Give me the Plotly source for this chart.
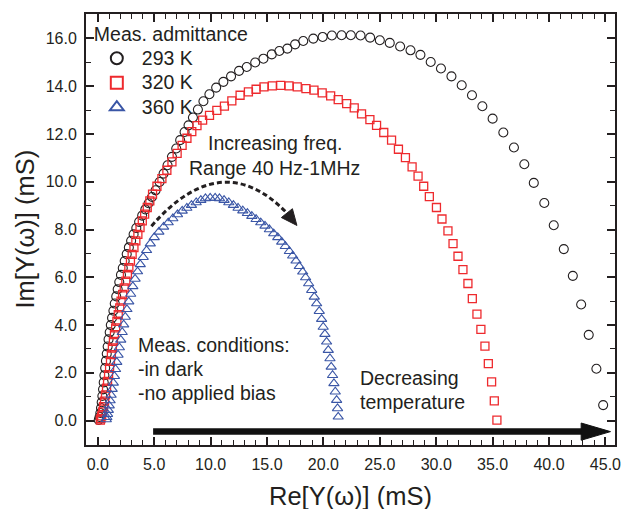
import plotly.graph_objects as go

# ---- data (Re, Im in mS) ----
re_293 = [0.08,0.15,0.22,0.28,0.34,0.40,0.46,0.52,0.58,0.65,0.72,0.79,0.87,0.95,1.05,1.15,1.26,1.38,1.50,1.63,
          1.76,1.90,2.05,2.21,2.38,2.56,2.75,2.95,3.17,3.41,3.66,3.93,4.21,4.50,
          4.80,5.12,5.47,5.83,6.18,6.57,6.95,7.30,7.69,8.04,8.43,8.87,9.36,9.89,10.49,11.13,11.81,12.52,13.20,13.95,
          14.68,15.42,16.09,16.80,17.49,18.21,19.10,19.93,20.75,21.61,22.43,23.29,24.14,25.00,25.88,26.80,27.72,
          28.60,29.51,30.42,31.35,32.26,33.17,34.09,35.00,35.95,36.89,37.81,38.65,39.58,40.42,41.31,42.11,42.85,
          43.52,44.20,44.80]
im_293 = [0.03,0.15,0.32,0.53,0.77,1.03,1.31,1.60,1.90,2.20,2.50,2.80,3.10,3.40,3.70,4.00,4.30,4.60,4.90,5.20,
          5.50,5.80,6.10,6.39,6.68,6.97,7.25,7.53,7.80,8.06,8.32,8.58,8.84,9.10,
          9.36,9.64,9.99,10.34,10.69,11.04,11.39,11.74,12.08,12.36,12.69,13.02,13.37,13.66,13.94,14.18,14.41,14.64,14.80,14.99,
          15.15,15.33,15.47,15.57,15.75,15.89,15.99,16.06,16.12,16.13,16.13,16.12,16.03,15.92,15.81,15.66,15.50,
          15.31,15.01,14.74,14.41,14.04,13.62,13.16,12.64,12.06,11.43,10.73,9.95,9.11,8.18,7.18,6.06,4.86,
          3.59,2.17,0.65]

re_320 = [0.22,0.27,0.34,0.42,0.50,0.59,0.68,0.77,0.86,0.95,1.04,1.12,1.20,1.29,1.38,1.47,1.58,1.69,1.81,1.94,
          2.06,2.20,2.34,2.48,2.62,2.75,2.89,3.04,3.20,3.37,3.55,3.74,3.94,4.15,4.38,4.61,
          4.85,5.24,5.68,6.12,6.57,7.03,7.47,7.90,8.33,8.79,9.29,9.90,10.55,11.22,11.88,12.61,13.35,14.03,14.73,
          15.47,16.21,16.95,17.68,18.45,19.16,19.89,20.64,21.31,22.06,22.73,23.38,24.12,24.71,25.35,26.04,26.65,
          27.27,27.86,28.39,28.89,29.39,30.02,30.51,31.04,31.49,31.93,32.37,32.81,33.20,33.61,33.96,34.32,34.62,
          34.91,35.15,35.38]
im_320 = [0.02,0.08,0.20,0.37,0.58,0.82,1.08,1.36,1.64,1.92,2.20,2.48,2.76,3.04,3.32,3.60,3.88,4.16,4.44,4.72,
          5.00,5.28,5.56,5.84,6.12,6.40,6.68,6.96,7.24,7.52,7.80,8.08,8.36,8.64,8.92,9.20,
          9.48,9.81,10.13,10.48,10.83,11.19,11.52,11.82,12.10,12.35,12.58,12.78,12.99,13.16,13.38,13.62,13.76,13.87,13.97,
          14.01,14.03,14.01,13.97,13.90,13.83,13.72,13.59,13.44,13.27,13.09,12.84,12.60,12.36,12.06,11.74,11.36,
          11.01,10.62,10.23,9.81,9.38,8.92,8.44,7.94,7.41,6.88,6.32,5.74,5.11,4.46,3.82,3.12,2.39,
          1.62,0.83,0.02]

re_360 = [0.75,0.80,0.86,0.93,1.01,1.09,1.18,1.27,1.37,1.47,1.57,1.68,1.79,1.91,2.03,2.16,2.29,2.43,2.58,2.74,
          2.91,3.10,3.30,3.52,3.76,4.02,4.32,
          4.65,5.00,5.41,5.83,6.24,6.65,7.06,7.48,7.89,8.30,8.72,9.13,9.54,9.96,10.40,10.78,11.19,11.61,12.02,
          12.43,12.85,13.26,13.65,14.03,14.44,14.82,15.21,15.59,15.95,16.30,16.62,16.98,17.27,17.57,17.86,18.16,
          18.42,18.69,18.96,19.19,19.40,19.63,19.84,19.98,20.13,20.28,20.43,20.58,20.69,20.81,20.93,21.05,21.17,
          21.25,21.31]
im_360 = [0.05,0.14,0.27,0.44,0.63,0.84,1.07,1.32,1.58,1.86,2.15,2.45,2.75,3.06,3.38,3.70,4.02,4.34,4.66,4.98,
          5.30,5.62,5.93,6.24,6.54,6.84,7.13,
          7.41,7.67,7.90,8.11,8.29,8.46,8.63,8.78,8.90,9.02,9.13,9.23,9.30,9.32,9.32,9.30,9.23,9.13,9.02,
          8.90,8.79,8.68,8.56,8.43,8.29,8.15,8.00,7.83,7.67,7.48,7.30,7.09,6.90,6.69,6.46,6.23,
          5.99,5.74,5.46,5.18,4.90,4.58,4.25,3.92,3.62,3.30,2.95,2.60,2.25,1.90,1.56,1.21,0.86,
          0.51,0.16]

series_names = ["293 K", "320 K", "360 K"]
x_ticks = [0, 5, 10, 15, 20, 25, 30, 35, 40, 45]
y_ticks = [0, 2, 4, 6, 8, 10, 12, 14, 16]

FONT = "Arial, Liberation Sans, sans-serif"
TXT = "#231f20"
FS = 19.5


def lname(s):
    return "<span style='font-size:19.5px'>" + s + "</span>"


fig = go.Figure()
fig.add_trace(go.Scatter(x=re_293, y=im_293, mode="markers", name=lname(series_names[0]),
                         marker=dict(symbol="circle-open", size=9, color="#231f20", line=dict(width=1.1))))
fig.add_trace(go.Scatter(x=re_320, y=im_320, mode="markers", name=lname(series_names[1]),
                         marker=dict(symbol="square-open", size=8, color="#ee2a2e", line=dict(width=1.3))))
fig.add_trace(go.Scatter(x=re_360, y=im_360, mode="markers", name=lname(series_names[2]),
                         marker=dict(symbol="triangle-up-open", size=9, color="#3a56a6", line=dict(width=1.1))))

axis_common = dict(showline=True, linewidth=2, linecolor="#231f20", mirror="allticks",
                   ticks="inside", ticklen=8, tickwidth=1.5, tickcolor="#231f20",
                   showgrid=False, zeroline=False, tickformat=".1f", automargin=False,
                   ticklabeloverflow="allow",
                   tickfont=dict(family=FONT, size=16, color=TXT))

fig.update_xaxes(range=[-1.05, 45.85], tickvals=x_ticks, ticklabelstandoff=4,
                 minor=dict(dtick=1, tick0=0, ticks="inside", ticklen=5, tickwidth=1.2, tickcolor="#231f20"),
                 **axis_common)
fig.update_yaxes(range=[-1.02, 17.02], tickvals=y_ticks, ticklabelstandoff=4,
                 minor=dict(dtick=1, tick0=0, ticks="inside", ticklen=5, tickwidth=1.2, tickcolor="#231f20"),
                 **axis_common)

# axis titles
fig.add_annotation(x=0.5, y=0, xref="paper", yref="paper", yshift=-51, text="Re[Y(ω)] (mS)",
                   showarrow=False, xanchor="center", yanchor="middle",
                   font=dict(family=FONT, size=25.5, color=TXT))
fig.add_annotation(x=0, y=0.5, xref="paper", yref="paper", xshift=-62, text="Im[Y(ω)] (mS)",
                   textangle=-90, showarrow=False, xanchor="center", yanchor="middle",
                   font=dict(family=FONT, size=25.5, color=TXT))

# thick "decreasing temperature" arrow
fig.add_shape(type="line", xref="x", yref="y", x0=4.9, y0=-0.46, x1=43.1, y1=-0.46,
              line=dict(color="#111111", width=6.5))
fig.add_shape(type="path", xref="x", yref="y", path="M 42.85 -0.82 L 45.45 -0.46 L 42.85 -0.10 Z",
              fillcolor="#111111", line=dict(color="#111111", width=1))

# dashed curved frequency arrow
fig.add_shape(type="path", xref="x", yref="y", path="M 4.75 8.14 Q 10.97 11.52 16.76 8.69",
              line=dict(color="#231f20", width=3, dash="5px,3px"))
fig.add_shape(type="path", xref="x", yref="y", path="M 17.65 8.17 L 16.27 8.50 L 17.25 8.87 Z",
              fillcolor="#231f20", line=dict(color="#231f20", width=1))


def txt(x, y, s, anchor="left"):
    fig.add_annotation(x=x, y=y, xref="x", yref="y", text=s, showarrow=False,
                       xanchor=anchor, yanchor="middle",
                       font=dict(family=FONT, size=FS, color=TXT))


txt(15.7, 11.62, "Increasing freq.", "center")
txt(15.7, 10.57, "Range 40 Hz-1MHz", "center")
txt(3.36, 3.17, "Meas. conditions:")
txt(3.36, 2.16, "-in dark")
txt(3.36, 1.16, "-no applied bias")
txt(23.06, 1.79, "Decreasing")
txt(23.06, 0.78, "temperature")

fig.update_layout(
    width=621, height=509,
    margin=dict(l=86, r=6, t=14, b=64, autoexpand=False),
    paper_bgcolor="white", plot_bgcolor="white",
    font=dict(family=FONT, color=TXT),
    showlegend=True,
    legend=dict(x=0.011, y=0.996, xanchor="left", yanchor="top",
                bgcolor="rgba(0,0,0,0)", borderwidth=0, itemwidth=40,
                title=dict(text="Meas. admittance", font=dict(family=FONT, size=FS, color=TXT)),
                font=dict(family=FONT, size=16.5, color=TXT),
                itemsizing="constant", tracegroupgap=0),
)

fig.write_html("out.html", config={"displayModeBar": False},
               post_script="document.body.style.margin='0';")
